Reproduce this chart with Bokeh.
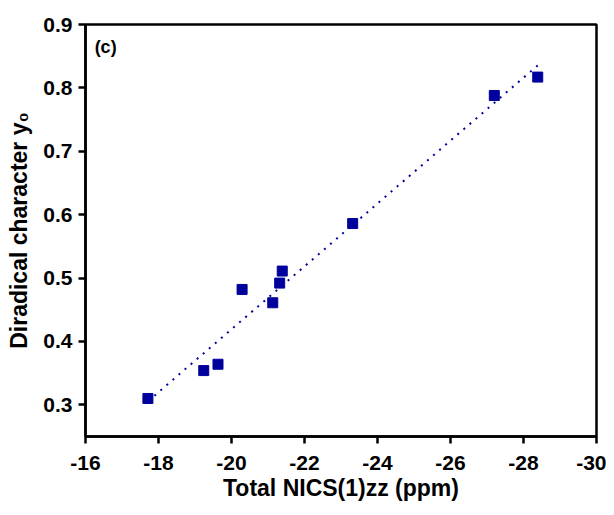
import numpy as np
from bokeh.plotting import figure
from bokeh.models import Range1d, FixedTicker, PrintfTickFormatter, Label
from bokeh.embed import file_html
from bokeh.resources import INLINE

# Data
nics = [-17.71, -19.24, -19.63, -20.29, -21.13, -21.32, -21.39, -23.32, -27.20, -28.39]
y0 = [0.310, 0.354, 0.364, 0.482, 0.461, 0.492, 0.511, 0.586, 0.788, 0.817]
x_ticks = [-16, -18, -20, -22, -24, -26, -28, -30]
y_ticks = [0.3, 0.4, 0.5, 0.6, 0.7, 0.8, 0.9]

# Linear fit of the data (trend line)
slope, intercept = np.polyfit(nics, y0, 1)
fit_x = [min(nics), max(nics)]
fit_y = [slope * v + intercept for v in fit_x]

FONT = "Liberation Sans"
COLOR = "#00009C"

p = figure(width=606, height=503, output_backend="svg", toolbar_location=None,
           x_range=Range1d(-16, -30), y_range=Range1d(0.25, 0.9),
           min_border_left=85, min_border_right=10, min_border_top=24, min_border_bottom=62)

p.grid.visible = False
p.outline_line_color = "black"
p.outline_line_width = 2.5
p.background_fill_color = "white"
p.border_fill_color = "white"

p.line(fit_x, fit_y, line_color=COLOR, line_width=2, line_dash="2 6")
p.scatter(nics, y0, marker="square", size=10, fill_color=COLOR, line_color=COLOR)

for ax in (p.xaxis[0], p.yaxis[0]):
    ax.axis_line_width = 2.5
    ax.axis_line_color = "black"
    ax.major_tick_line_width = 2.5
    ax.major_tick_line_color = "black"
    ax.major_tick_out = 7
    ax.major_tick_in = 0
    ax.minor_tick_line_color = None
    ax.major_label_text_font = FONT
    ax.major_label_text_font_style = "bold"
    ax.major_label_text_font_size = "21px"
    ax.major_label_text_color = "black"
    ax.axis_label_text_font = FONT
    ax.axis_label_text_font_style = "bold"
    ax.axis_label_text_font_size = "23px"
    ax.axis_label_text_color = "black"

p.xaxis[0].major_label_standoff = 12
p.yaxis[0].major_label_standoff = 6
p.xaxis[0].ticker = FixedTicker(ticks=x_ticks)
p.xaxis[0].formatter = PrintfTickFormatter(format="%d")
p.yaxis[0].ticker = FixedTicker(ticks=y_ticks)
p.yaxis[0].formatter = PrintfTickFormatter(format="%.1f")
p.xaxis[0].axis_label = "Total NICS(1)zz (ppm)"
p.yaxis[0].axis_label = "Diradical character y\u2080"
p.xaxis[0].axis_label_standoff = 2
p.yaxis[0].axis_label_standoff = 8

p.add_layout(Label(x=-16.25, y=0.865, text="(c)", text_font=FONT, text_font_style="bold",
                   text_font_size="18px", text_color="black", text_baseline="middle"))

open("out.html", "w").write(file_html(p, INLINE))
